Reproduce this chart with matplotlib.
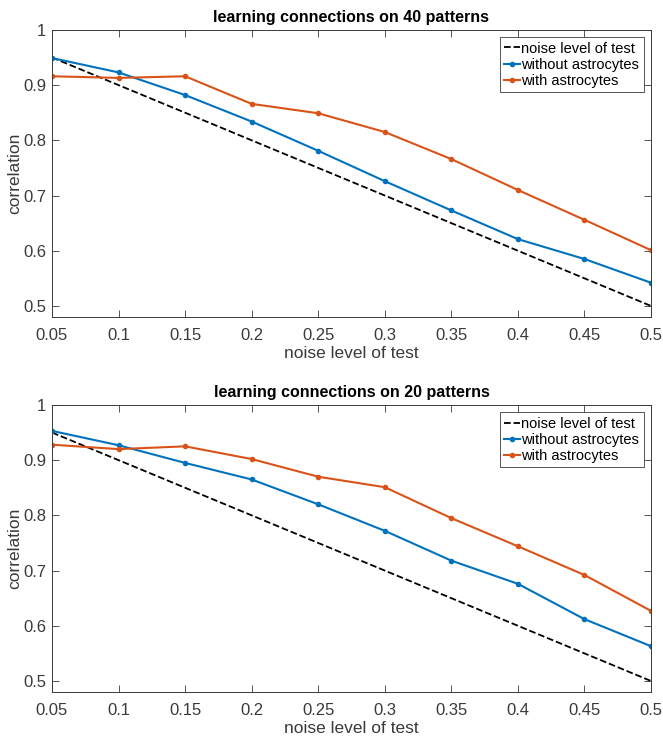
import numpy as np
import matplotlib
matplotlib.use('Agg')
import matplotlib.pyplot as plt

plt.rcParams['font.family'] = ['Liberation Sans', 'DejaVu Sans']

# noise levels used in the test
noise = [0.05, 0.1, 0.15, 0.2, 0.25, 0.3, 0.35, 0.4, 0.45, 0.5]
# reference line: correlation expected from noise alone
ref_line = [0.95, 0.9, 0.85, 0.8, 0.75, 0.7, 0.65, 0.6, 0.55, 0.5]

# 40 patterns
without_40 = [0.949, 0.923, 0.882, 0.834, 0.781, 0.726, 0.673, 0.621, 0.585, 0.542]
with_40 = [0.916, 0.913, 0.916, 0.866, 0.849, 0.815, 0.766, 0.710, 0.656, 0.601]

# 20 patterns
without_20 = [0.953, 0.927, 0.895, 0.865, 0.820, 0.772, 0.718, 0.676, 0.612, 0.563]
with_20 = [0.928, 0.920, 0.925, 0.902, 0.870, 0.851, 0.795, 0.744, 0.692, 0.627]

xticks = [0.05, 0.1, 0.15, 0.2, 0.25, 0.3, 0.35, 0.4, 0.45, 0.5]
xticklabels = ['0.05', '0.1', '0.15', '0.2', '0.25', '0.3', '0.35', '0.4', '0.45', '0.5']
yticks = [0.5, 0.6, 0.7, 0.8, 0.9, 1.0]
yticklabels = ['0.5', '0.6', '0.7', '0.8', '0.9', '1']

blue = '#0072BD'
orange = '#D95319'
axcol = '#3a3a3a'

fig = plt.figure(figsize=(6.63, 7.38), dpi=100)

panels = [
	(0.5705, 'learning connections on 40 patterns', without_40, with_40),
	(0.0623, 'learning connections on 20 patterns', without_20, with_20),
]

for bottom, title, wo, wi in panels:
	ax = fig.add_axes([0.0784, bottom, 0.9035, 0.389])

	ax.plot(noise, ref_line, '--', color='k', lw=1.3, label='noise level of test')
	ax.plot(noise, wo, '.-', color=blue, lw=1.5, ms=6, label='without astrocytes')
	ax.plot(noise, wi, '.-', color=orange, lw=1.5, ms=6, label='with astrocytes')

	ax.set_xlim(0.05, 0.5)
	ax.set_ylim(0.48, 1.0)
	ax.set_xticks(xticks)
	ax.set_xticklabels(xticklabels)
	ax.set_yticks(yticks)
	ax.set_yticklabels(yticklabels)
	ax.tick_params(direction='in', top=True, right=True, labelsize=12,
				   colors=axcol, length=5, width=0.6)
	ax.tick_params(axis='x', pad=8)
	ax.tick_params(axis='y', pad=4)
	for s in ax.spines.values():
		s.set_color(axcol)
		s.set_linewidth(0.7)

	ax.set_title(title, fontsize=11.5, fontweight='bold', pad=6)
	ax.set_xlabel('noise level of test', fontsize=12.5, color=axcol, labelpad=2)
	ax.set_ylabel('correlation', fontsize=12.5, color=axcol)
	ax.yaxis.set_label_coords(-0.049, 0.5)

	leg = ax.legend(loc='upper right', fontsize=10.5, handlelength=1.1,
					handletextpad=0.1, borderpad=0.3, labelspacing=0.15,
					fancybox=False, framealpha=1, borderaxespad=0.5)
	leg.get_frame().set_edgecolor(axcol)
	leg.get_frame().set_linewidth(0.6)

plt.savefig('out.png', dpi=100)
